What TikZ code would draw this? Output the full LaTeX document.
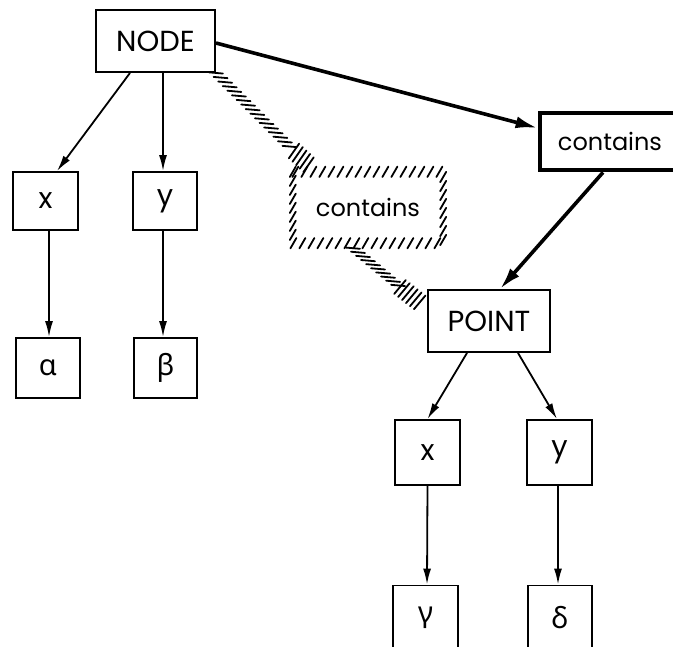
\documentclass[tikz,border=0pt]{standalone}
\usepackage{fontspec}
\setmainfont{Poppins}
\newfontfamily\greekfont{Noto Sans}
\usetikzlibrary{arrows.meta,decorations.markings}
\tikzset{
  txt/.style={font=\fontsize{29}{32}\selectfont},
  small/.style={font=\fontsize{24}{28}\selectfont},
  box/.style={txt, draw, line width=1.9pt, inner sep=0pt},
  boldbox/.style={box, small, line width=4.8pt},
  arr/.style={line width=1.8pt, -{Latex[length=16pt,width=8pt]}},
  bigarr/.style={line width=3.6pt, -{Latex[length=22pt,width=12pt]}},
  hatch/.style n args={3}{decoration={markings,
      mark=between positions 0 and 1 step #2 with {\pgftransformresetnontranslations
        \draw[line width=1.8pt, line cap=round] (#1:#3) -- (#1+180:#3);}}, decorate},
}
\begin{document}
\begin{tikzpicture}[x=1pt,y=-1pt]
\useasboundingbox (0,0) rectangle (673,647);
\clip (0,0) rectangle (673,647);
% left tree
\node[box, minimum width=119pt, minimum height=62pt] (N) at (155.5,41) {NODE};
\node[box, minimum width=65pt, minimum height=58pt] (x1) at (45.5,201) {x};
\node[box, minimum width=64pt, minimum height=58pt] (y1) at (165,201) {y};
\node[box, minimum width=64pt, minimum height=60pt] (al) at (48,368) {\greekfont α};
\node[box, minimum width=63pt, minimum height=60pt] (be) at (165.5,368) {\greekfont β};
% bold contains
\node[boldbox, minimum width=140pt, minimum height=57pt] (C) at (610,141.5) {contains};
% hatched contains
\node[small, inner sep=0pt, minimum width=150pt, minimum height=71pt] (H) at (368,207.5) {contains};
% right tree
\node[box, minimum width=122pt, minimum height=62pt] (P) at (489,321) {POINT};
\node[box, minimum width=65pt, minimum height=65pt] (x2) at (427.5,452.5) {x};
\node[box, minimum width=65pt, minimum height=65pt] (y2) at (559.5,452.5) {y};
\node[box, minimum width=65pt, minimum height=65pt] (ga) at (425.5,618) {\greekfont γ};
\node[box, minimum width=64pt, minimum height=65pt] (de) at (560,618) {\greekfont δ};
% arrows
\draw[arr] ([xshift=-25.5pt]N.south) -- ([xshift=11.5pt]x1.north);
\draw[arr] ([xshift=7.5pt]N.south) -- ([xshift=-2pt]y1.north);
\draw[arr] ([xshift=3.5pt]x1.south) -- ([xshift=1pt]al.north);
\draw[arr] ([xshift=-2pt]y1.south) -- ([xshift=-2.5pt]be.north);
\draw[bigarr] ([yshift=-2pt]N.east) -- ([yshift=13.5pt]C.west);
\draw[bigarr] ([xshift=-7pt]C.south) -- ([xshift=11pt]P.north);
\draw[arr] ([xshift=-22pt]P.south) -- (x2.north);
\draw[arr] ([xshift=29pt]P.south) -- ([xshift=-2.5pt]y2.north);
\draw[arr] (x2.south) -- ([xshift=1.5pt]ga.north);
\draw[arr] ([xshift=-1.5pt]y2.south) -- ([xshift=-2pt]de.north);
% hatched connectors
\coordinate (h1a) at (294,151);
\coordinate (h1b) at (312,168);
\path[hatch={-5}{6.5pt}{7pt}] (N.south east) -- (h1a);
\path[hatch={55}{5pt}{9pt}] (h1a) -- (h1b);
\path[hatch={60}{9pt}{6pt}] (H.north west) rectangle (H.south east);
\coordinate (h2s) at ([xshift=-15pt,yshift=-5pt]H.south);
\coordinate (h2a) at (400,287);
\path[hatch={-5}{6.5pt}{7pt}] (h2s) -- (h2a);
\path[hatch={50}{5pt}{9pt}] (h2a) -- ([xshift=-4pt,yshift=16pt]P.west);
\end{tikzpicture}
\end{document}
